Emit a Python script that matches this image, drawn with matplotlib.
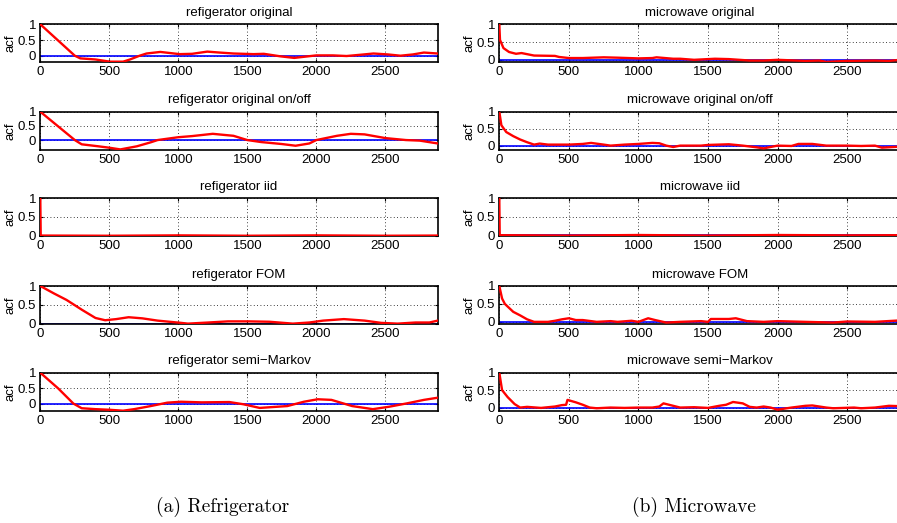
#!/usr/bin/env python3
# acf panels: refrigerator vs microwave, 5 models each
import matplotlib
matplotlib.use("Agg")
import matplotlib.pyplot as plt

plt.rcParams['font.family'] = ['Liberation Sans', 'DejaVu Sans']

# ---- data ----
ref_orig_x = [0, 250, 290, 400, 505, 600, 650, 720, 770, 870, 1010, 1100, 1210, 1300, 1400, 1545, 1620, 1740, 1840, 1920, 2000, 2120, 2220, 2320, 2415, 2520, 2610, 2700, 2780, 2880]
ref_orig_y = [1.0, 0.0, -0.085, -0.12, -0.19, -0.19, -0.12, 0.0, 0.07, 0.12, 0.05, 0.06, 0.13, 0.1, 0.07, 0.05, 0.06, -0.02, -0.07, -0.03, 0.01, 0.01, -0.01, 0.03, 0.07, 0.04, 0.0, 0.04, 0.1, 0.07]

ref_onoff_x = [0, 250, 300, 420, 500, 580, 700, 800, 850, 1000, 1100, 1250, 1400, 1500, 1600, 1750, 1850, 1950, 2000, 2150, 2250, 2350, 2500, 2650, 2750, 2880]
ref_onoff_y = [1.0, 0.0, -0.15, -0.22, -0.27, -0.33, -0.22, -0.08, 0.0, 0.1, 0.14, 0.22, 0.15, 0.0, -0.07, -0.14, -0.2, -0.12, 0.0, 0.15, 0.22, 0.2, 0.07, 0.0, -0.02, -0.12]

ref_iid_x = [0, 3, 500, 1000, 1500, 2000, 2500, 2880]
ref_iid_y = [1.0, 0.0, -0.005, 0.005, -0.005, 0.005, -0.005, 0.0]

ref_fom_x = [0, 100, 190, 305, 400, 470, 550, 640, 740, 850, 1020, 1070, 1220, 1360, 1510, 1660, 1830, 1950, 2050, 2200, 2350, 2470, 2590, 2720, 2820, 2880]
ref_fom_y = [1.0, 0.8, 0.63, 0.36, 0.15, 0.09, 0.12, 0.17, 0.14, 0.08, 0.02, 0.0, 0.03, 0.06, 0.06, 0.05, 0.0, 0.03, 0.08, 0.12, 0.08, 0.02, 0.0, 0.03, 0.03, 0.08]

ref_smk_x = [0, 130, 240, 300, 400, 500, 600, 680, 800, 920, 1020, 1170, 1370, 1470, 1590, 1790, 1910, 2010, 2110, 2260, 2410, 2530, 2660, 2780, 2880]
ref_smk_y = [1.0, 0.49, 0.0, -0.15, -0.18, -0.2, -0.23, -0.18, -0.08, 0.03, 0.06, 0.04, 0.05, -0.02, -0.14, -0.08, 0.06, 0.14, 0.12, -0.08, -0.18, -0.1, 0.01, 0.12, 0.19]

mw_orig_x = [0, 5, 30, 70, 120, 160, 250, 400, 430, 500, 600, 750, 850, 1000, 1100, 1130, 1250, 1300, 1400, 1550, 1650, 1800, 1900, 2000, 2200, 2300, 2350, 2500, 2700, 2800, 2880]
mw_orig_y = [1.0, 0.56, 0.33, 0.22, 0.17, 0.19, 0.12, 0.11, 0.08, 0.05, 0.05, 0.07, 0.06, 0.04, 0.05, 0.07, 0.03, 0.03, 0.0, 0.03, 0.02, -0.02, -0.02, 0.0, -0.03, -0.02, -0.06, -0.03, -0.02, -0.03, 0.0]

mw_onoff_x = [0, 15, 50, 100, 150, 200, 250, 290, 350, 500, 600, 660, 750, 800, 900, 1000, 1100, 1150, 1200, 1250, 1300, 1450, 1500, 1650, 1750, 1850, 1900, 2000, 2100, 2150, 2250, 2350, 2500, 2600, 2700, 2750, 2880]
mw_onoff_y = [1.0, 0.6, 0.4, 0.28, 0.18, 0.1, 0.03, 0.06, 0.03, 0.03, 0.05, 0.08, 0.03, 0.0, 0.03, 0.05, 0.08, 0.07, 0.0, -0.04, 0.0, 0.0, 0.02, 0.04, 0.0, -0.05, -0.08, 0.0, -0.01, 0.05, 0.05, 0.0, 0.0, -0.01, 0.0, -0.06, -0.03]

mw_iid_x = [0, 3, 500, 1000, 1500, 2000, 2500, 2880]
mw_iid_y = [1.0, 0.0, -0.01, 0.005, -0.01, 0.005, -0.005, 0.0]

mw_fom_x = [0, 20, 40, 100, 150, 200, 250, 350, 400, 450, 500, 550, 600, 700, 800, 850, 950, 1000, 1070, 1120, 1200, 1300, 1450, 1500, 1520, 1650, 1700, 1780, 1900, 2000, 2200, 2400, 2500, 2700, 2880]
mw_fom_y = [1.0, 0.65, 0.5, 0.28, 0.18, 0.07, 0.0, 0.0, 0.03, 0.07, 0.1, 0.05, 0.05, 0.0, 0.02, 0.0, 0.03, 0.0, 0.1, 0.05, -0.02, 0.0, 0.02, 0.0, 0.08, 0.08, 0.1, 0.02, 0.0, 0.02, 0.0, -0.02, 0.01, 0.0, 0.04]

mw_smk_x = [0, 20, 60, 110, 150, 200, 300, 400, 450, 480, 490, 550, 600, 650, 700, 800, 900, 1000, 1100, 1150, 1180, 1250, 1300, 1400, 1500, 1580, 1630, 1680, 1750, 1800, 1850, 1900, 1950, 2000, 2100, 2200, 2250, 2350, 2400, 2550, 2600, 2700, 2800, 2880]
mw_smk_y = [1.0, 0.5, 0.3, 0.1, 0.0, 0.02, -0.01, 0.03, 0.07, 0.08, 0.22, 0.15, 0.08, 0.0, -0.02, 0.0, -0.01, 0.0, 0.0, 0.03, 0.12, 0.05, 0.0, 0.01, -0.01, 0.05, 0.08, 0.16, 0.12, 0.02, 0.0, 0.03, 0.0, -0.06, 0.0, 0.05, 0.06, 0.0, -0.02, 0.0, -0.02, 0.0, 0.05, 0.04]

left_titles = ["refigerator original", "refigerator original on/off", "refigerator iid",
               "refigerator FOM", "refigerator semi\u2212Markov"]
right_titles = ["microwave original", "microwave original on/off", "microwave iid",
                "microwave FOM", "microwave semi\u2212Markov"]
left_series = [(ref_orig_x, ref_orig_y), (ref_onoff_x, ref_onoff_y), (ref_iid_x, ref_iid_y),
               (ref_fom_x, ref_fom_y), (ref_smk_x, ref_smk_y)]
right_series = [(mw_orig_x, mw_orig_y), (mw_onoff_x, mw_onoff_y), (mw_iid_x, mw_iid_y),
                (mw_fom_x, mw_fom_y), (mw_smk_x, mw_smk_y)]
left_ybottom = [-0.21, -0.34, -0.02, -0.01, -0.23]
right_ybottom = [-0.07, -0.12, -0.03, -0.06, -0.09]
xticks = [0, 500, 1000, 1500, 2000, 2500]

W, H = 897, 523
fig = plt.figure(figsize=(W / 100, H / 100), dpi=100)

row_tops = [24.3, 111.7, 198.3, 286, 372.7]
ax_h = 38.0
cols = [(40.3, 437.7, left_titles, left_series, left_ybottom),
        (499.3, 900.0, right_titles, right_series, right_ybottom)]

for x0, x1, titles, series, ybots in cols:
    for i in range(5):
        top = row_tops[i]
        ax = fig.add_axes([x0 / W, 1 - (top + ax_h) / H, (x1 - x0) / W, ax_h / H])
        xs, ys = series[i]
        ax.axhline(0, color='blue', lw=1.2, zorder=2)
        ax.plot(xs, ys, color='red', lw=1.7, zorder=3)
        ax.set_xlim(0, 2880)
        ax.set_ylim(ybots[i], 1)
        ax.set_xticks(xticks)
        ax.set_yticks([0, 0.5, 1])
        ax.set_yticklabels(["0", "0.5", "1"])
        ax.grid(True, color='black', linestyle=(0, (1, 3)), lw=0.6)
        ax.tick_params(direction='in', length=2, labelsize=9.5, pad=3,
                       top=True, right=True)
        for s in ax.spines.values():
            s.set_linewidth(1.2)
        ax.set_title(titles[i], fontsize=9.5, pad=6)
        ax.set_ylabel("acf", fontsize=9.5, labelpad=1)

fig.text(223 / W, 1 - 507 / H, "(a) Refrigerator", family='cmr10', fontsize=14,
         ha='center', va='center')
fig.text(694 / W, 1 - 507 / H, "(b) Microwave", family='cmr10', fontsize=14,
         ha='center', va='center')

fig.savefig("out.png", dpi=100)
